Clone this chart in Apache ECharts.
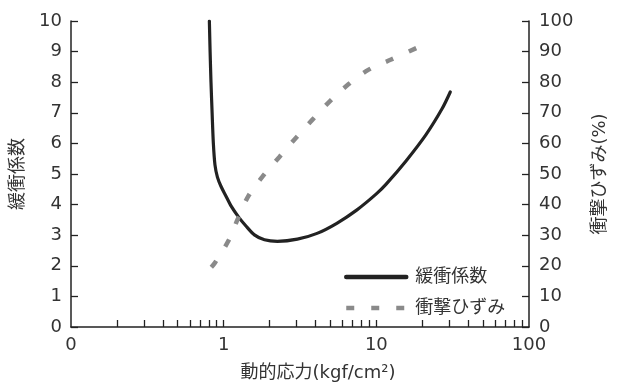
<!DOCTYPE html>
<html>
<head>
<meta charset="utf-8">
<script src="https://cdn.jsdelivr.net/npm/echarts@6/dist/echarts.min.js"></script>
<style>
html,body{margin:0;padding:0;background:#fff;}
#chart{width:617px;height:387px;}
</style>
</head>
<body>
<div id="chart"></div>
<script>
// 緩衝係数 (left axis)
var stressCoef = [0.806, 0.815, 0.826, 0.84, 0.856, 0.877, 0.91, 0.96, 1.03, 1.12, 1.25, 1.4, 1.59, 1.85, 2.25, 3.04, 4.09, 5.51, 7.43, 10, 11.6, 15.6, 21.1, 27, 30.5];
var cushionCoef = [10, 9.0, 8.0, 7.0, 6.0, 5.3, 4.9, 4.6, 4.3, 3.95, 3.6, 3.3, 3.01, 2.85, 2.80, 2.87, 3.06, 3.39, 3.82, 4.35, 4.67, 5.42, 6.28, 7.14, 7.68];
// 衝撃ひずみ (right axis, %)
var stressStrain = [0.83, 0.877, 1.07, 1.24, 1.46, 1.8, 2.31, 2.96, 3.79, 4.99, 6.56, 8.91, 12.5, 19.5];
var strain = [19.5, 21, 28, 35.4, 43.0, 49.2, 55.5, 61.7, 67.6, 73.9, 79.3, 84.1, 87.4, 91.8];

var xLabelValues = [0.1, 1, 10, 100];
var xTickValues = [0.2,0.3,0.4,0.5,0.6,0.7,0.8,0.9,1,2,3,4,5,6,7,8,9,10,20,30,40,50,60,70,80,90];
var seriesNames = ['緩衝係数', '衝撃ひずみ'];

function zip(a, b) { return a.map(function (v, i) { return [v, b[i]]; }); }

var FONT = "'DejaVu Sans', 'Noto Sans CJK JP', sans-serif";
var TXT = '#333';
var AX = '#222';

var chart = echarts.init(document.getElementById('chart'), null, {renderer: 'canvas'});
chart.setOption({
  animation: false,
  backgroundColor: '#fff',
  grid: {left: 71, right: 83, top: 21, bottom: 55, containLabel: false},
  legend: {
    orient: 'vertical',
    left: 339, top: 262,
    itemWidth: 60, itemHeight: 20, itemGap: 11,
    textStyle: {fontFamily: FONT, fontSize: 18, color: TXT, lineHeight: 20, padding: [0, 0, 0, 4]},
    data: [
      {name: seriesNames[0], itemStyle: {opacity: 0}, lineStyle: {color: '#222', width: 4.5}},
      {name: seriesNames[1], itemStyle: {opacity: 0}, lineStyle: {color: '#8a8a8a', width: 4.5, type: [8, 17]}}
    ]
  },
  xAxis: {
    type: 'log', logBase: 10, min: 0.1, max: 100,
    name: '動的応力(kgf/cm²)', nameLocation: 'middle', nameGap: 37,
    nameTextStyle: {fontFamily: FONT, fontSize: 18, color: TXT, padding: [0, 0, 0, 36]},
    axisLine: {show: true, lineStyle: {color: AX, width: 1.5}},
    axisTick: {show: true, inside: true, length: 7, lineStyle: {color: AX, width: 1.3}, customValues: xTickValues},
    axisLabel: {fontFamily: FONT, fontSize: 18, color: TXT, margin: 9, customValues: xLabelValues,
      formatter: function (v) { return v < 0.5 ? '0' : String(Math.round(v)); }},
    splitLine: {show: false},
    minorTick: {show: false}
  },
  yAxis: [
    {
      type: 'value', min: 0, max: 10, interval: 1, position: 'left',
      name: '緩衝係数', nameLocation: 'middle', nameGap: 44, nameRotate: 90,
      nameTextStyle: {fontFamily: FONT, fontSize: 18, color: TXT},
      axisLine: {show: true, lineStyle: {color: AX, width: 1.5}},
      axisTick: {show: true, inside: true, length: 7, lineStyle: {color: AX, width: 1.3}},
      axisLabel: {fontFamily: FONT, fontSize: 18, color: TXT, margin: 9},
      splitLine: {show: false}
    },
    {
      type: 'value', min: 0, max: 100, interval: 10, position: 'right',
      name: '衝撃ひずみ(%)', nameLocation: 'middle', nameGap: 62, nameRotate: 90,
      nameTextStyle: {fontFamily: FONT, fontSize: 18, color: TXT},
      axisLine: {show: true, lineStyle: {color: AX, width: 1.5}},
      axisTick: {show: true, inside: true, length: 7, lineStyle: {color: AX, width: 1.3}},
      axisLabel: {fontFamily: FONT, fontSize: 18, color: TXT, margin: 10},
      splitLine: {show: false}
    }
  ],
  series: [
    {
      name: seriesNames[0], type: 'line', yAxisIndex: 0,
      data: zip(stressCoef, cushionCoef),
      smooth: 0.3, symbol: 'none', showSymbol: false,
      lineStyle: {color: '#222', width: 3.2, cap: 'round'},
      itemStyle: {color: '#222'}
    },
    {
      name: seriesNames[1], type: 'line', yAxisIndex: 1,
      data: zip(stressStrain, strain),
      smooth: 0.35, symbol: 'none', showSymbol: false,
      lineStyle: {color: '#8a8a8a', width: 4.5, type: [8, 17]},
      itemStyle: {color: '#8a8a8a'}
    }
  ]
});
</script>
</body>
</html>
